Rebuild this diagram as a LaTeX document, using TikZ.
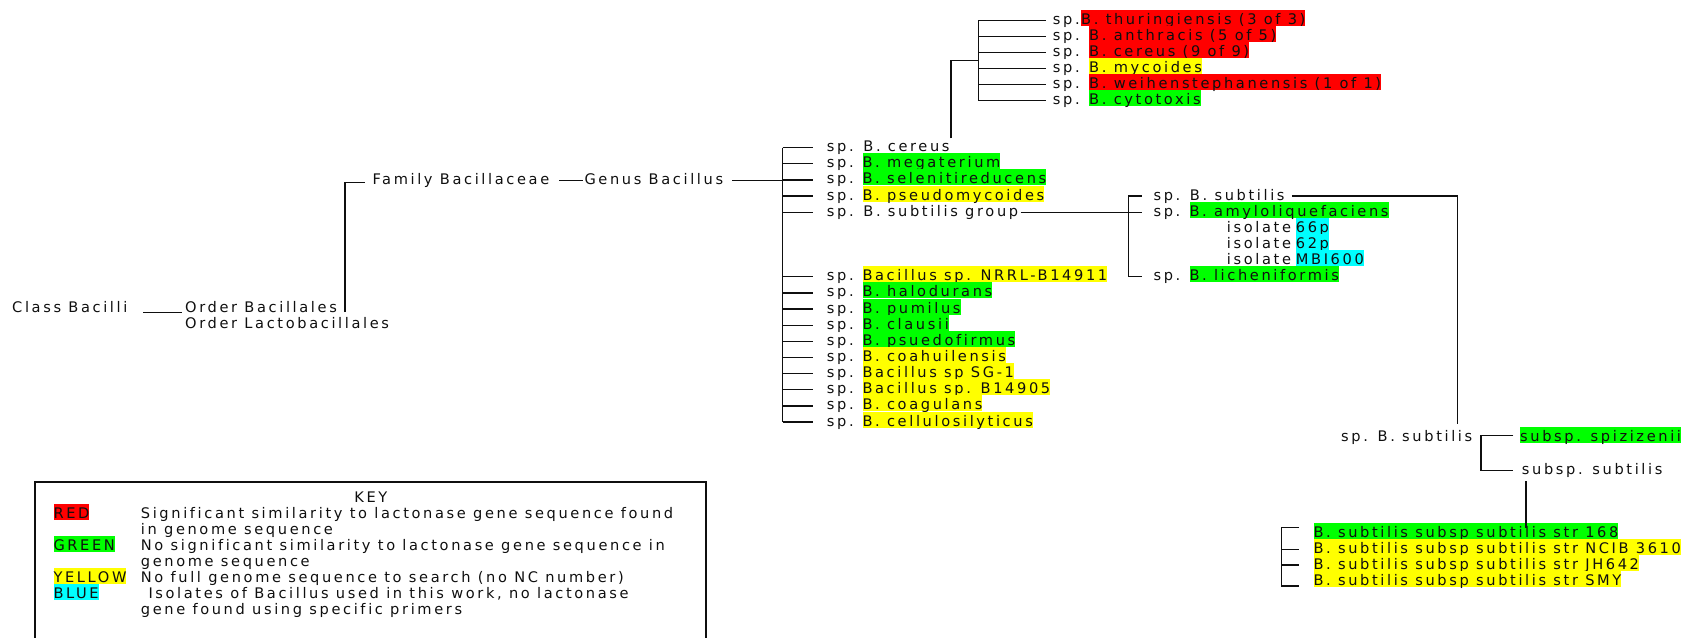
\documentclass[tikz,border=0pt]{standalone}
\usepackage{fontspec}
\setmainfont{DejaVu Sans}[LetterSpace=18,Ligatures=NoCommon]
\definecolor{hred}{RGB}{255,0,0}
\definecolor{hgreen}{RGB}{0,255,0}
\definecolor{hyellow}{RGB}{255,255,0}
\definecolor{hcyan}{RGB}{0,255,255}
\definecolor{ink}{RGB}{15,15,15}

\tikzset{
  every node/.style={font=\fontsize{14.6}{16}\selectfont, inner sep=0pt, anchor=base west, text=ink},
  lbl/.style={text height=11pt, text depth=3pt},
  hl/.style={text height=14.5pt, text depth=1.5pt},
  hr/.style={hl, fill=hred},
  hg/.style={hl, fill=hgreen},
  hy/.style={hl, fill=hyellow},
  hc/.style={hl, fill=hcyan},
  tree/.style={line width=1.3pt, draw=ink},
  keyframe/.style={line width=1.8pt, draw=ink}
}

\begin{document}
\begin{tikzpicture}[x=1pt, y=-1pt]
\useasboundingbox (0,0) rectangle (1693,637);

% ---------- class / order / family / genus ----------
\node[lbl] (class) at (12,312.3) {Class Bacilli};
\node[lbl] (ordB) at (185,312.3) {Order Bacillales};
\node[lbl] (ordL) at (185,328.4) {Order Lactobacillales};
\node[lbl] (fam) at (372.3,184.3) {Family Bacillaceae};
\node[lbl] (gen) at (584.3,184.3) {Genus Bacillus};

\coordinate (cl) at (143,312.3);
\draw[tree] (cl) -- ([xshift=-3pt]ordB.base west);
\coordinate (fb) at (345,312);
\coordinate (ft) at (345,182.3);
\draw[tree] (fb) -- (ft) -- ([xshift=-7pt]fam.west |- ft);
\draw[tree] ([xshift=10pt]fam.east) -- ([xshift=-1.5pt]gen.west);

% ---------- genus Bacillus species ----------
\coordinate (mx) at (782.7,0);
\node[lbl] (sp0)  at (826.7,151.7)  {sp. B. cereus};
\node[lbl] (sp1)  at (826.7,167.84) {sp.};
\node[lbl] (sp2)  at (826.7,183.98) {sp.};
\node[lbl] (sp3)  at (826.7,200.12) {sp.};
\node[lbl] (sp4)  at (826.7,216.26) {sp. B. subtilis group};
\node[lbl] (sp8)  at (826.7,280.82) {sp.};
\node[lbl] (sp9)  at (826.7,296.96) {sp.};
\node[lbl] (sp10) at (826.7,313.1)  {sp.};
\node[lbl] (sp11) at (826.7,329.24) {sp.};
\node[lbl] (sp12) at (826.7,345.38) {sp.};
\node[lbl] (sp13) at (826.7,361.52) {sp.};
\node[lbl] (sp14) at (826.7,377.66) {sp.};
\node[lbl] (sp15) at (826.7,393.8)  {sp.};
\node[lbl] (sp16) at (826.7,409.94) {sp.};
\node[lbl] (sp17) at (826.7,426.08) {sp.};

\node[hg] (h1)  at (862.3,167.84) {B. megaterium};
\node[hg] (h2)  at (862.3,183.98) {B. selenitireducens};
\node[hy] (h3)  at (862.3,200.12) {B. pseudomycoides};
\node[hy] (h8)  at (862.3,280.82) {Bacillus sp. NRRL-B14911};
\node[hg] (h9)  at (862.3,296.96) {B. halodurans};
\node[hg] (h10) at (862.3,313.1)  {B. pumilus};
\node[hg] (h11) at (862.3,329.24) {B. clausii};
\node[hg] (h12) at (862.3,345.38) {B. psuedofirmus};
\node[hy] (h13) at (862.3,361.52) {B. coahuilensis};
\node[hy] (h14) at (862.3,377.66) {Bacillus sp SG-1};
\node[hy] (h15) at (862.3,393.8)  {Bacillus sp. B14905};
\node[hy] (h16) at (862.3,409.94) {B. coagulans};
\node[hy] (h17) at (862.3,426.08) {B. cellulosilyticus};

\draw[tree] (mx |- sp0.west) -- (mx |- sp17.west);
\foreach \n in {0,1,2,3,4,8,9,10,11,12,13,14,15,16,17}
  \draw[tree] (mx |- sp\n.west) -- ([xshift=-14pt]sp\n.west);
\draw[tree] ([xshift=9pt]gen.east) -- (mx |- gen.east);

% ---------- B. cereus group ----------
\coordinate (cx) at (978.3,0);
\node[lbl] (c0) at (1052.7,24.5)  {sp.};
\node[lbl] (c1) at (1052.7,40.5)  {sp.};
\node[lbl] (c2) at (1052.7,56.5)  {sp.};
\node[lbl] (c3) at (1052.7,72.5)  {sp.};
\node[lbl] (c4) at (1052.7,88.5)  {sp.};
\node[lbl] (c5) at (1052.7,104.5) {sp.};
\node[hr] (ch0) at (1081,24.5)  {B. thuringiensis (3 of 3)};
\node[hr] (ch1) at (1089,40.5)  {B. anthracis (5 of 5)};
\node[hr] (ch2) at (1089,56.5)  {B. cereus (9 of 9)};
\node[hy] (ch3) at (1089,72.5)  {B. mycoides};
\node[hr] (ch4) at (1089,88.5)  {B. weihenstephanensis (1 of 1)};
\node[hg] (ch5) at (1089,104.5) {B. cytotoxis};

\draw[tree] (cx |- c0.west) -- (cx |- c5.west);
\foreach \n in {0,...,5}
  \draw[tree] (cx |- c\n.west) -- ([xshift=-6.7pt]c\n.west);
\coordinate (cv) at (951,138.3);
\coordinate (cj) at (951,60.3);
\draw[tree] (cv) -- (cj) -- (cx |- cj);

% ---------- B. subtilis group ----------
\coordinate (bx) at (1128.3,0);
\node[lbl] (s0) at (1153.3,200.12) {sp. B. subtilis};
\node[lbl] (s1) at (1153.3,216.26) {sp.};
\node[hg] (s1h) at (1189.3,216.26) {B. amyloliquefaciens};
\node[lbl] (i1) at (1226.7,232.4) {isolate};
\node[hc] (i1h) at (1295.7,232.4) {66p};
\node[lbl] (i2) at (1226.7,248.54) {isolate};
\node[hc] (i2h) at (1295.7,248.54) {62p};
\node[lbl] (i3) at (1226.7,264.68) {isolate};
\node[hc] (i3h) at (1295.7,264.68) {MBI600};
\node[lbl] (s5) at (1153.3,280.82) {sp.};
\node[hg] (s5h) at (1189.3,280.82) {B. licheniformis};

\draw[tree] ([xshift=2.4pt]sp4.east) -- ([xshift=-11.6pt]s1.west);
\draw[tree] ([xshift=-11.6pt]s0.west) -- (bx |- s0.west) -- (bx |- s5.west) -- ([xshift=-11.6pt]s5.west);

% ---------- B. subtilis subspecies ----------
\coordinate (tx) at (1457.7,0);
\coordinate (tb) at (1457.7,424.3);
\draw[tree] ([xshift=7pt]s0.east) -- (tx |- s0.east) -- (tb);

\node[lbl] (l0) at (1341,441.7) {sp. B. subtilis};
\coordinate (lx) at (1481,0);
\node[hg] (spz) at (1520,441.8) {subsp. spizizenii};
\node[lbl] (sbs) at (1521.7,474.3) {subsp. subtilis};
\draw[tree] ([xshift=-6.7pt]spz.west) -- (lx |- spz.west) -- (lx |- sbs.west) -- ([xshift=-8.4pt]sbs.west);

\node[hg] (st0) at (1313.3,537.8) {B. subtilis subsp subtilis str 168};
\node[hy] (st1) at (1313.3,553.8) {B. subtilis subsp subtilis str NCIB 3610};
\node[hy] (st2) at (1313.3,569.8) {B. subtilis subsp subtilis str JH642};
\node[hy] (st3) at (1313.3,585.8) {B. subtilis subsp subtilis str SMY};

\coordinate (v1) at (1526,481);
\coordinate (v2) at (1526,528.3);
\draw[tree] (v1) -- (v2);

\coordinate (kt) at (1281.7,527.7);
\coordinate (kb) at (1281.7,586);
\draw[tree] (1299,527.7) -- (kt) -- (kb) -- (1299,586);
\draw[tree] (1281.7,549.3) -- (1299,549.3);
\draw[tree] (1281.7,565) -- (1299,565);

% ---------- key ----------
\draw[keyframe] (35,650) -- (35,481.7) -- (705.7,481.7) -- (705.7,650);
\node[lbl, anchor=base] (keyt) at (370.8,502.3) {KEY};
\node[hr] (kr) at (53.3,518.3) {RED};
\node[hg] (kg) at (53.3,550.5) {GREEN};
\node[hy] (ky) at (53.3,582.7) {YELLOW};
\node[hc] (kc) at (53.3,598.8) {BLUE};
\node[lbl] (k1) at (140.7,518.3) {Significant similarity to lactonase gene sequence found};
\node[lbl] (k2) at (140.7,534.4) {in genome sequence};
\node[lbl] (k3) at (140.7,550.5) {No significant similarity to lactonase gene sequence in};
\node[lbl] (k4) at (140.7,566.6) {genome sequence};
\node[lbl] (k5) at (140.7,582.7) {No full genome sequence to search (no NC number)};
\node[lbl] (k6) at (148.3,598.8) {Isolates of Bacillus used in this work, no lactonase};
\node[lbl] (k7) at (140.7,614.9) {gene found using specific primers};
\end{tikzpicture}
\end{document}
